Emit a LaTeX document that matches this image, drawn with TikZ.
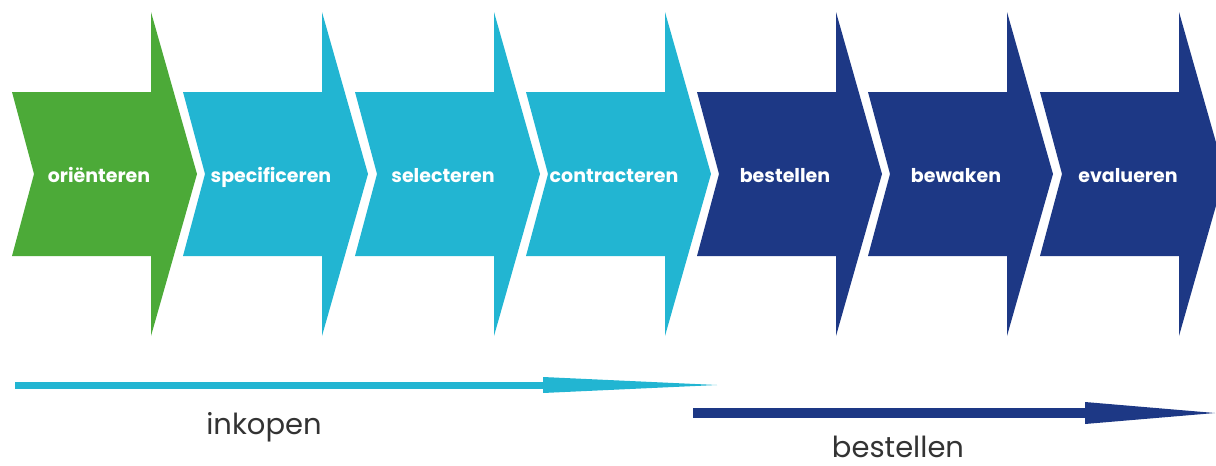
\documentclass[tikz,border=0pt]{standalone}
\usepackage{fontspec}
\setmainfont{Poppins}
\usetikzlibrary{arrows.meta}

\definecolor{phasegreen}{RGB}{76,170,56}
\definecolor{phasecyan}{RGB}{34,181,210}
\definecolor{phaseblue}{RGB}{29,56,133}
\tikzset{
  phaselabel/.style={text=white, font=\bfseries\fontsize{19}{21}\selectfont, inner sep=0pt, anchor=base},
  tracklabel/.style={text=black!80, font=\fontsize{29}{33}\selectfont, inner sep=0pt, anchor=base}
}

\begin{document}
\begin{tikzpicture}[x=1pt, y=-1pt]   %% pixel grid of the reference
        \useasboundingbox (0,0) rectangle (1216,466);
        \clip (0,0) rectangle (1216,466);
        \fill [phasegreen] (12,92) -- ++(139,0) -- ++(0,-80) -- ++(46,162) -- ++(-46,162) -- ++(0,-80) -- ++(-139,0) -- ++(22,-82) -- cycle;
        \fill [phasecyan] (183,92) -- ++(139,0) -- ++(0,-80) -- ++(46,162) -- ++(-46,162) -- ++(0,-80) -- ++(-139,0) -- ++(22,-82) -- cycle;
        \fill [phasecyan] (355,92) -- ++(139,0) -- ++(0,-80) -- ++(46,162) -- ++(-46,162) -- ++(0,-80) -- ++(-139,0) -- ++(22,-82) -- cycle;
        \fill [phasecyan] (526,92) -- ++(139,0) -- ++(0,-80) -- ++(46,162) -- ++(-46,162) -- ++(0,-80) -- ++(-139,0) -- ++(22,-82) -- cycle;
        \fill [phaseblue] (697,92) -- ++(139,0) -- ++(0,-80) -- ++(46,162) -- ++(-46,162) -- ++(0,-80) -- ++(-139,0) -- ++(22,-82) -- cycle;
        \fill [phaseblue] (868,92) -- ++(139,0) -- ++(0,-80) -- ++(46,162) -- ++(-46,162) -- ++(0,-80) -- ++(-139,0) -- ++(22,-82) -- cycle;
        \fill [phaseblue] (1040,92) -- ++(139,0) -- ++(0,-80) -- ++(46,162) -- ++(-46,162) -- ++(0,-80) -- ++(-139,0) -- ++(22,-82) -- cycle;

        \node [phaselabel] (orient) at (99,182) {oriënteren};
        \node [phaselabel] (spec) at (271,182) {specificeren};
        \node [phaselabel] (select) at (443,182) {selecteren};
        \node [phaselabel] (contract) at (614,182) {contracteren};
        \node [phaselabel] (order) at (785,182) {bestellen};
        \node [phaselabel] (watch) at (956,182) {bewaken};
        \node [phaselabel] (evaluate) at (1128,182) {evalueren};

        \coordinate (buyStart) at (15,385);
        \coordinate (buyEnd) at (717,385);
        \coordinate (orderStart) at (693,413);
        \coordinate (orderEnd) at (1215,413);
        \draw [-{Triangle[length=174pt, width=16pt, line width=0pt 0]}, phasecyan, line width=7pt] (buyStart) -- (buyEnd);
        \draw [-{Triangle[length=130pt, width=22pt, line width=0pt 0]}, phaseblue, line width=10pt] (orderStart) -- (orderEnd);
        \node [tracklabel] (buy) at (264,434) {inkopen};
        \node [tracklabel] (ordering) at (898,457) {bestellen};
    \end{tikzpicture}
\end{document}
